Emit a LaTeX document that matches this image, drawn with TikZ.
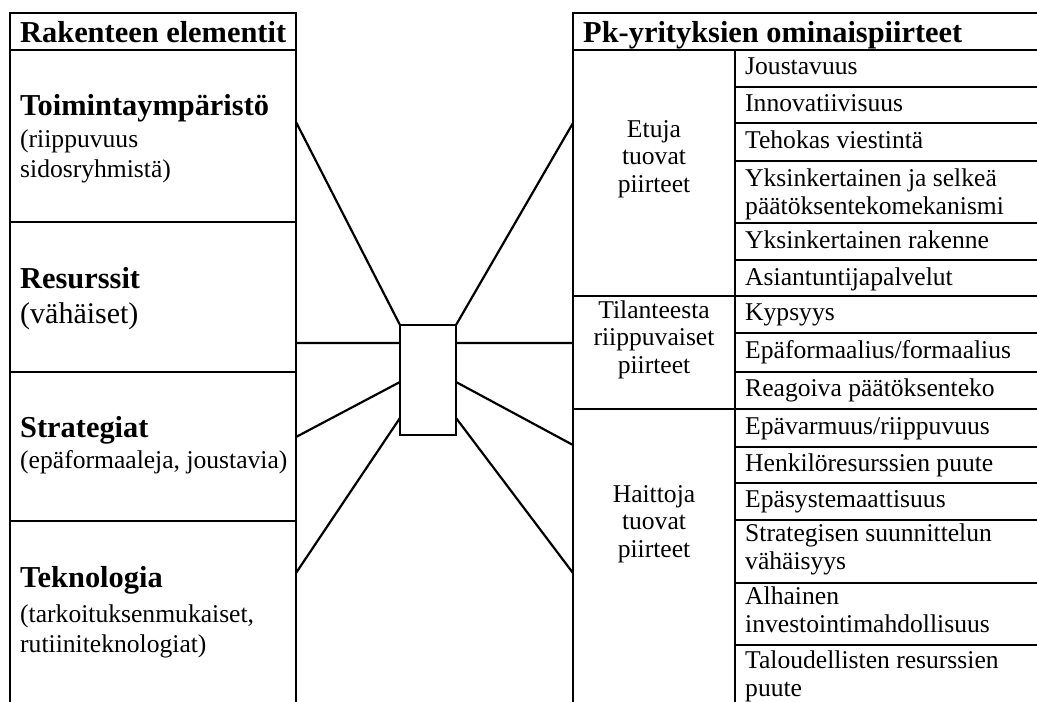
\documentclass[tikz,border=0pt]{standalone}
\usepackage{fontspec}
\setmainfont{Liberation Serif}
\usetikzlibrary{calc}
\begin{document}
\begin{tikzpicture}[x=1pt,y=-1pt,
  rule/.style={line width=1.8pt},
  conn/.style={line width=2.2pt},
  hubbox/.style={draw,line width=2.6pt,outer sep=0pt,inner sep=0pt,minimum width=56pt,minimum height=110pt},
  txt/.style={anchor=base west,inner sep=0pt,align=left,font=\fontsize{25.6}{28}\selectfont},
  sub/.style={anchor=base west,inner sep=0pt,align=left,font=\fontsize{25.6}{30}\selectfont},
  subbig/.style={anchor=base west,inner sep=0pt,font=\fontsize{30}{34}\selectfont},
  hdb/.style={anchor=base west,inner sep=0pt,font=\fontsize{30.4}{34}\selectfont\bfseries},
  grp/.style={anchor=base,inner sep=0pt,align=center,font=\fontsize{25.6}{27.5}\selectfont}
]
\useasboundingbox (0,0) rectangle (1037,702);
% left table
\draw[rule] (296,702) -- (296,13) -- (10,13) -- (10,702);
\foreach \y in {50,222,372,521} \draw[rule] (10,\y) -- (296,\y);
% right table
\draw[rule] (1037,13) -- (573,13) -- (573,702);
\draw[rule] (573,50) -- (1037,50);
\draw[rule] (735,50) -- (735,702);
\foreach \y in {296,409} \draw[rule] (573,\y) -- (1037,\y);
\foreach \y in {87,123,161,223,260,333,372,447,483,520,583,645} \draw[rule] (735,\y) -- (1037,\y);
% headers
\node[hdb] (lhead) at (20,42) {Rakenteen elementit};
\node[hdb] (rhead) at (583,42) {Pk-yrityksien ominaispiirteet};
% left cells (multi-line nodes are placed by their last baseline)
\node[hdb] (toimT) at (20,115) {Toimintaympäristö};
\node[sub] (toimS) at (20,177) {(riippuvuus\\sidosryhmistä)};
\node[hdb] (resT) at (20,288) {Resurssit};
\node[subbig] (resS) at (20,323) {(vähäiset)};
\node[hdb] (strT) at (20,437) {Strategiat};
\node[sub] (strS) at (20,468) {(epäformaaleja, joustavia)};
\node[hdb] (tekT) at (20,587) {Teknologia};
\node[sub] (tekS) at (20,652) {(tarkoituksenmukaiset,\\rutiiniteknologiat)};
% groups
\node[grp] (g1) at (654,192) {Etuja\\tuovat\\piirteet};
\node[grp] (g2) at (654,373) {Tilanteesta\\riippuvaiset\\piirteet};
\node[grp] (g3) at (654,557) {Haittoja\\tuovat\\piirteet};
% items
\node[txt] (i1) at (745,74) {Joustavuus};
\node[txt] (i2) at (745,111) {Innovatiivisuus};
\node[txt] (i3) at (745,148) {Tehokas viestintä};
\node[txt] (i4) at (745,214) {Yksinkertainen ja selkeä\\päätöksentekomekanismi};
\node[txt] (i5) at (745,248) {Yksinkertainen rakenne};
\node[txt] (i6) at (745,285) {Asiantuntijapalvelut};
\node[txt] (i7) at (745,320) {Kypsyys};
\node[txt] (i8) at (745,358) {Epäformaalius/formaalius};
\node[txt] (i9) at (745,396) {Reagoiva päätöksenteko};
\node[txt] (i10) at (745,434) {Epävarmuus/riippuvuus};
\node[txt] (i11) at (745,471) {Henkilöresurssien puute};
\node[txt] (i12) at (745,507) {Epäsystemaattisuus};
\node[txt] (i13) at (745,569) {Strategisen suunnittelun\\vähäisyys};
\node[txt] (i14) at (745,632) {Alhainen\\investointimahdollisuus};
\node[txt] (i15) at (745,696) {Taloudellisten resurssien\\puute};
% hub and connectors
\node[hubbox] (hub) at (428,380) {};
\coordinate (L1) at (296,122);
\coordinate (L2) at (296,343);
\coordinate (L3) at (296,437);
\coordinate (L4) at (296,573);
\coordinate (R1) at (573,123);
\coordinate (R2) at (573,343);
\coordinate (R3) at (573,445);
\coordinate (R4) at (573,573);
\draw[conn] (L1) -- (hub.north west);
\draw[conn] (L2) -- ($(hub.north west)!0.164!(hub.south west)$);
\draw[conn] (L3) -- ($(hub.north west)!0.518!(hub.south west)$);
\draw[conn] (L4) -- ($(hub.north west)!0.845!(hub.south west)$);
\draw[conn] (hub.north east) -- (R1);
\draw[conn] ($(hub.north east)!0.164!(hub.south east)$) -- (R2);
\draw[conn] ($(hub.north east)!0.518!(hub.south east)$) -- (R3);
\draw[conn] ($(hub.north east)!0.845!(hub.south east)$) -- (R4);
\end{tikzpicture}
\end{document}
